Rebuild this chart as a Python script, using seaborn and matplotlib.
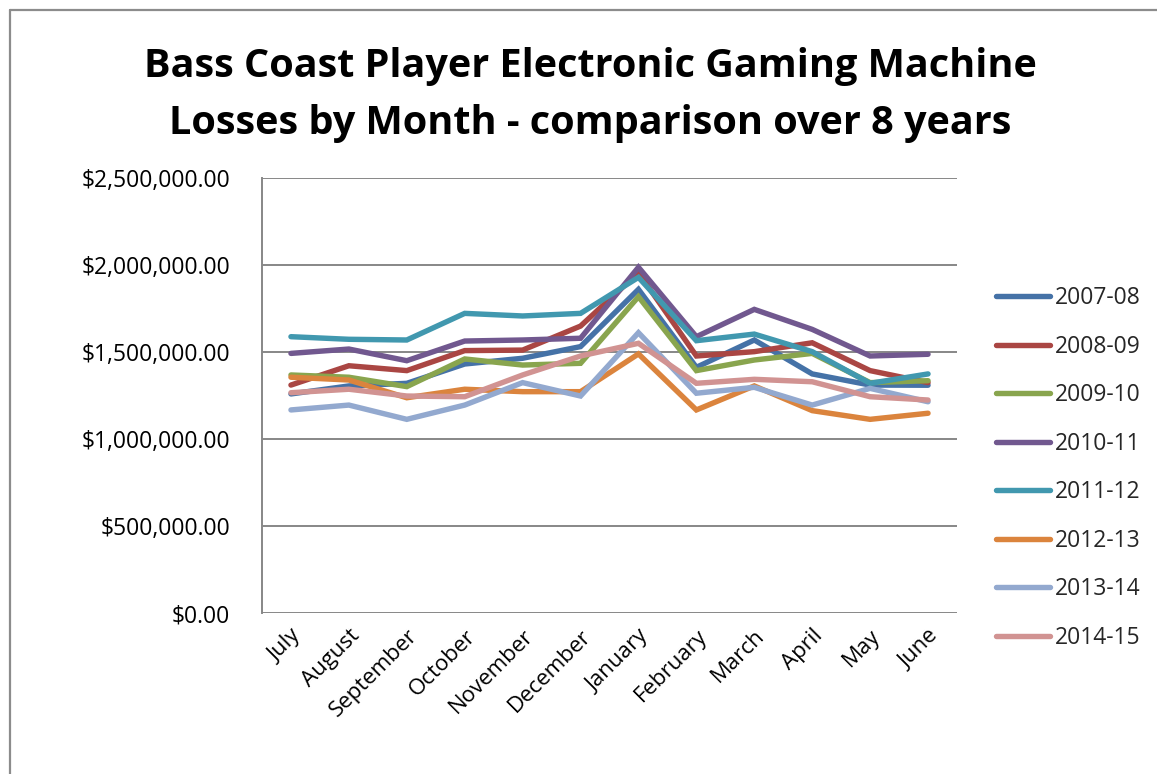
import matplotlib
matplotlib.use("Agg")
import matplotlib.pyplot as plt
from matplotlib.lines import Line2D
from matplotlib.ticker import FuncFormatter, MultipleLocator
import pandas as pd
import seaborn as sns

months = ["July", "August", "September", "October", "November", "December",
          "January", "February", "March", "April", "May", "June"]

seasons = ["2007-08", "2008-09", "2009-10", "2010-11",
           "2011-12", "2012-13", "2013-14", "2014-15"]

# Monthly player losses (AUD)
losses_2007_08 = [1259000, 1305000, 1320000, 1431000, 1464000, 1531000,
                  1860000, 1412000, 1569000, 1374000, 1310000, 1309000]
losses_2008_09 = [1310000, 1421000, 1393000, 1508000, 1511000, 1649000,
                  1956000, 1477000, 1502000, 1553000, 1393000, 1324000]
losses_2009_10 = [1368000, 1355000, 1301000, 1460000, 1425000, 1435000,
                  1818000, 1393000, 1454000, 1492000, 1324000, 1335000]
losses_2010_11 = [1492000, 1517000, 1450000, 1563000, 1569000, 1579000,
                  1987000, 1588000, 1745000, 1630000, 1477000, 1487000]
losses_2011_12 = [1588000, 1573000, 1569000, 1722000, 1707000, 1722000,
                  1929000, 1565000, 1603000, 1502000, 1320000, 1374000]
losses_2012_13 = [1355000, 1339000, 1237000, 1286000, 1272000, 1272000,
                  1489000, 1167000, 1305000, 1163000, 1113000, 1148000]
losses_2013_14 = [1167000, 1195000, 1113000, 1195000, 1324000, 1247000,
                  1611000, 1263000, 1297000, 1195000, 1291000, 1214000]
losses_2014_15 = [1266000, 1286000, 1247000, 1243000, 1368000, 1477000,
                  1550000, 1320000, 1343000, 1329000, 1243000, 1224000]

series = [losses_2007_08, losses_2008_09, losses_2009_10, losses_2010_11,
          losses_2011_12, losses_2012_13, losses_2013_14, losses_2014_15]

colors = ["#4572A7", "#AA4643", "#89A54E", "#71588F",
          "#4198AF", "#DB843D", "#93A9CF", "#D19392"]

rows = []
for season, values in zip(seasons, series):
    for month, value in zip(months, values):
        rows.append({"Month": month, "Season": season, "Loss": value})
df = pd.DataFrame(rows)
df["Month"] = pd.Categorical(df["Month"], categories=months, ordered=True)

sns.set_theme(style="white")
plt.rcParams["font.family"] = ["Open Sans", "DejaVu Sans"]

W, H = 1157, 774
fig = plt.figure(figsize=(W / 100, H / 100), dpi=100)
ax = fig.add_axes([262 / W, 1 - 613 / H, (957 - 262) / W, (613 - 178) / H])

line_w = 3.9
sns.lineplot(data=df, x="Month", y="Loss", hue="Season", hue_order=seasons,
             palette=colors, sort=False, linewidth=line_w, ax=ax, legend=False)
for ln in ax.get_lines():
    ln.set_solid_capstyle("round")
    ln.set_solid_joinstyle("miter")

grid_c = "#878787"
label_fs = 16.5
ax.set_xlim(-0.5, len(months) - 0.5)
ax.set_ylim(0, 2500000)
ax.yaxis.set_major_locator(MultipleLocator(500000))
ax.yaxis.set_major_formatter(FuncFormatter(lambda v, p: f"${v:,.2f}"))
ax.grid(axis="y", color=grid_c, linewidth=1.4)
ax.set_axisbelow(True)
for side in ["top", "right", "bottom"]:
    ax.spines[side].set_visible(False)
ax.spines["left"].set_color(grid_c)
ax.spines["left"].set_linewidth(1.4)

ax.set_xticks(range(len(months)))
ax.set_xticklabels(months, rotation=45, ha="right", rotation_mode="anchor",
                   fontsize=16, color="black")
ax.tick_params(axis="x", length=0, pad=9)
ax.tick_params(axis="y", length=0, labelsize=label_fs, labelcolor="black",
               pad=23)
ax.set_xlabel("")
ax.set_ylabel("")

fig.text(590 / W, 1 - 95 / H,
         "Bass Coast Player Electronic Gaming Machine\nLosses by Month - comparison over 8 years",
         ha="center", va="center", fontsize=28.5, fontweight="bold",
         linespacing=1.62, color="black")

handles = [Line2D([0], [0], color=c, lw=line_w, solid_capstyle="round")
           for c in colors]
fig.legend(handles, seasons, loc="upper left",
           bbox_to_anchor=(996 / W, 1 - 286 / H), frameon=False,
           fontsize=label_fs, handlelength=2.35, handletextpad=0.2,
           labelspacing=1.07, borderaxespad=0, borderpad=0)

# chart frame
frame_c = "#8c8c8c"
fig.add_artist(Line2D([10 / W, 1.0], [1 - 10 / H, 1 - 10 / H],
                      transform=fig.transFigure, color=frame_c, lw=1.6))
fig.add_artist(Line2D([10 / W, 10 / W], [1 - 10 / H, 0.0],
                      transform=fig.transFigure, color=frame_c, lw=1.6))

fig.savefig("out.png", dpi=100, facecolor="white")
